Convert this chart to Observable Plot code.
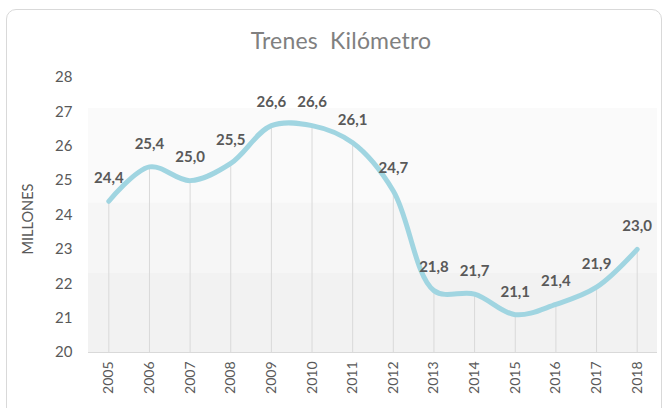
<!DOCTYPE html>
<html>
<head>
<meta charset="utf-8">
<script src="https://cdn.jsdelivr.net/npm/d3@7"></script>
<script src="https://cdn.jsdelivr.net/npm/@observablehq/plot@0.6"></script>
<style>
  html, body { margin: 0; padding: 0; background: #fff; width: 670px; height: 408px; overflow: hidden; }
  body { font-family: Lato, "Open Sans", sans-serif; position: relative; }
  #frame { position: absolute; left: 6px; top: 9px; width: 656px; height: 420px; border: 1px solid #d9d9d9; border-radius: 10px; box-sizing: border-box; }
  #title { position: absolute; left: 0; top: 0; width: 670px; height: 60px; text-align: center; font-size: 23px; line-height: 80px; color: #808080; padding-left: 12px; box-sizing: border-box; letter-spacing: 0.2px; }
  #chart { position: absolute; left: 0; top: 60px; }
</style>
</head>
<body>
<div id="frame"></div>
<div id="title">Trenes&nbsp; Kilómetro</div>
<div id="chart"></div>
<script>
const years = [2005, 2006, 2007, 2008, 2009, 2010, 2011, 2012, 2013, 2014, 2015, 2016, 2017, 2018];
const values = [24.4, 25.4, 25.0, 25.5, 26.6, 26.6, 26.1, 24.7, 21.8, 21.7, 21.1, 21.4, 21.9, 23.0];
const yTicks = [20, 21, 22, 23, 24, 25, 26, 27, 28];
const bandTops = [27.1, 24.35, 22.3];
const bandBottoms = [24.35, 22.3, 20];
const bandColors = ["#fafafa", "#f6f6f6", "#f2f2f2"];
const yLabel = "MILLONES";

const data = years.map((y, i) => ({year: String(y), value: values[i]}));
const bands = bandTops.map((t, i) => ({y1: t, y2: bandBottoms[i], fill: bandColors[i]}));
const fmt = v => v.toFixed(1).replace(".", ",");

const plot = Plot.plot({
  width: 670,
  height: 348,
  marginTop: 17,
  marginBottom: 56,
  marginLeft: 88,
  marginRight: 13,
  style: { fontFamily: "Lato, 'Open Sans', sans-serif", background: "transparent" },
  x: { type: "point", domain: years.map(String), padding: 0.5, round: false },
  y: { domain: [20, 28] },
  marks: [
    Plot.rect(bands, { y1: "y1", y2: "y2", fill: "fill" }),
    Plot.ruleX(data, { x: "year", y1: 20, y2: "value", stroke: "#d9d9d9", strokeWidth: 1 }),
    Plot.ruleY([20], { stroke: "#d9d9d9", strokeWidth: 1 }),
    Plot.axisY({ ticks: yTicks, tickSize: 0, tickPadding: 16, fontSize: 15, fill: "#595959", label: null }),
    Plot.axisX({ tickSize: 0, tickPadding: 9, tickRotate: -90, fontSize: 14, fill: "#595959", label: null }),
    Plot.text([yLabel], { frameAnchor: "left", textAnchor: "middle", rotate: -90, dx: -60, dy: 4, fontSize: 14.5, fill: "#595959", text: d => d }),
    Plot.line(data, { x: "year", y: "value", stroke: "#a0d5e1", strokeWidth: 5, curve: "catmull-rom", strokeLinecap: "round" }),
    Plot.text(data, { x: "year", y: "value", text: d => fmt(d.value), dy: -23, fontSize: 15, fontWeight: "bold", fill: "#595959" })
  ]
});
document.getElementById("chart").appendChild(plot);
</script>
</body>
</html>
